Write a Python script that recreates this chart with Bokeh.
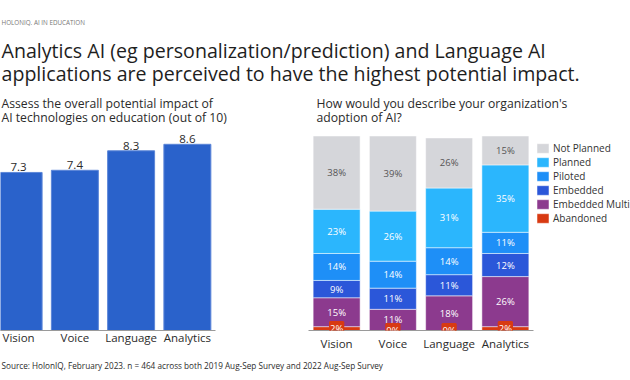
from bokeh.plotting import figure
from bokeh.models import (Range1d, FactorRange, FixedTicker, ColumnDataSource,
                          LabelSet, Legend, LegendItem)
from bokeh.layouts import column, row
from bokeh.embed import file_html
from bokeh.resources import INLINE
from bokeh.core.properties import value
import numpy as np

FONT = "Open Sans"

# ---------------- data ----------------
header_text = "HOLONIQ. AI IN EDUCATION"
title_lines = ["Analytics AI (eg personalization/prediction) and Language AI",
               "applications are perceived to have the highest potential impact."]
left_sub = ["Assess the overall potential impact of",
            "AI technologies on education (out of 10)"]
right_sub = ["How would you describe your organization's",
             "adoption of AI?"]
footer_text = ("Source: HolonIQ, February 2023. n = 464 across both 2019 Aug-Sep Survey "
               "and 2022 Aug-Sep Survey")

categories = ["Vision", "Voice", "Language", "Analytics"]
impact_scores = [7.3, 7.4, 8.3, 8.6]

series = ["Abandoned", "Embedded Multi", "Embedded", "Piloted", "Planned", "Not Planned"]
abandoned = [2, 0, 0, 2]
embedded_multi = [15, 11, 18, 26]
embedded = [9, 11, 11, 12]
piloted = [14, 14, 14, 11]
planned = [23, 26, 31, 35]
not_planned = [38, 39, 26, 15]
series_values = [abandoned, embedded_multi, embedded, piloted, planned, not_planned]
series_colors = ["#d83a12", "#8c3a8e", "#2b57d9", "#1e8ff7", "#2bb6fd", "#d5d6da"]

BAR_BLUE = "#2a62cb"
TXT = "#2b2b2b"


def blank(fig):
    fig.outline_line_color = None
    fig.background_fill_color = "white"
    fig.border_fill_color = "white"
    for g in fig.grid:
        g.visible = False


# ---------------- header (page pixel coordinates) ----------------
hdr = figure(width=630, height=128, x_range=Range1d(0, 630), y_range=Range1d(128, 0),
             output_backend="svg", toolbar_location=None, min_border=0,
             x_axis_location=None, y_axis_location=None)
blank(hdr)
hdr.text(x=[1], y=[22], text=[header_text], text_font=value(FONT), text_font_size="6.3px",
         text_color="#777777", text_baseline="alphabetic")
hdr.text(x=[1, 1], y=[50, 73], text=title_lines, text_font=value(FONT),
         text_font_size="19.6px", text_color="#1e1e1e", text_baseline="alphabetic")
hdr.text(x=[1, 1], y=[103, 117], text=left_sub, text_font=value(FONT),
         text_font_size="12.2px", text_color=TXT, text_baseline="alphabetic")
hdr.text(x=[316, 316], y=[103, 117], text=right_sub, text_font=value(FONT),
         text_font_size="12.2px", text_color=TXT, text_baseline="alphabetic")

# ---------------- left bar chart ----------------
xpos = np.arange(len(categories)) + 0.5
lsrc = ColumnDataSource(dict(x=xpos, score=impact_scores,
                             label=[f"{v:.1f}" for v in impact_scores]))
left = figure(frame_width=215, frame_height=202, x_range=Range1d(0.178, 4.0),
              y_range=Range1d(0, 9.33), output_backend="svg", toolbar_location=None,
              min_border_left=0, min_border_top=0, min_border_bottom=30,
              min_border_right=93, y_axis_location=None)
blank(left)
left.vbar(x="x", top="score", width=0.835, source=lsrc, fill_color=BAR_BLUE,
          line_color="#5c86d8", line_width=1)
left.text(x="x", y="score", text="label", source=lsrc, text_font=value(FONT),
          text_font_size="11.5px", text_color=TXT, text_align="center",
          text_baseline="bottom", y_offset=-1)
ax = left.xaxis[0]
ax.ticker = FixedTicker(ticks=list(xpos))
ax.major_label_overrides = {float(x): c for x, c in zip(xpos, categories)}
ax.major_tick_line_color = None
ax.major_tick_out = 0
ax.major_tick_in = 0
ax.minor_tick_line_color = None
ax.axis_line_color = "#9a9a9a"
ax.major_label_standoff = -1
ax.major_label_text_font = FONT
ax.major_label_text_font_size = "11.5px"
ax.major_label_text_color = TXT

# ---------------- right stacked chart ----------------
data = {"cat": categories}
for s, v in zip(series, series_values):
    data[s] = v
rsrc = ColumnDataSource(data)
right = figure(frame_width=225, frame_height=202,
               x_range=FactorRange(*categories, range_padding=0),
               y_range=Range1d(0, 104.9), output_backend="svg", toolbar_location=None,
               min_border_left=0, min_border_top=0, min_border_bottom=30,
               min_border_right=97, y_axis_location=None)
blank(right)
rends = right.vbar_stack(series, x="cat", width=0.835, source=rsrc, color=series_colors,
                         line_color="white", line_alpha=0.5, line_width=1)

vals = np.array(series_values, dtype=float)
cum = np.cumsum(vals, axis=0)
mids = cum - vals / 2
xs, ys, ts, cs = [], [], [], []
for i, s in enumerate(series):
    if s == "Abandoned":
        continue
    for j, c in enumerate(categories):
        xs.append(c)
        ys.append(mids[i, j])
        ts.append(f"{series_values[i][j]}%")
        cs.append("#555555" if s == "Not Planned" else "white")
right.text(x=xs, y=ys, text=ts, text_color=cs, text_font=value(FONT),
           text_font_size="9.5px", text_align="center", text_baseline="middle")

asrc = ColumnDataSource(dict(cat=categories, y=mids[0],
                             label=[f"{v}%" for v in abandoned]))
right.add_layout(LabelSet(x="cat", y="y", text="label", source=asrc,
                          text_font=value(FONT), text_font_size="9.5px",
                          text_color="white", text_align="center",
                          text_baseline="middle", background_fill_color=series_colors[0],
                          border_line_color=series_colors[0], border_line_width=2))

items = [LegendItem(label=s, renderers=[r]) for s, r in zip(series, rends)][::-1]
legend = Legend(items=items, location=(2, 105), margin=0, padding=0,
                glyph_width=15, glyph_height=12, label_height=12, spacing=0,
                label_standoff=3, label_text_font=FONT, label_text_font_size="10px",
                label_text_color="#333333", border_line_color=None,
                background_fill_alpha=0)
right.add_layout(legend, "right")

rax = right.xaxis[0]
rax.major_tick_line_color = None
rax.major_tick_out = 0
rax.major_tick_in = 0
rax.minor_tick_line_color = None
rax.axis_line_color = "#9a9a9a"
rax.major_label_standoff = 5
rax.major_label_text_font = FONT
rax.major_label_text_font_size = "11.5px"
rax.major_label_text_color = TXT

# ---------------- footer ----------------
ftr = figure(width=630, height=20, x_range=Range1d(0, 630), y_range=Range1d(380, 360),
             output_backend="svg", toolbar_location=None, min_border=0,
             x_axis_location=None, y_axis_location=None)
blank(ftr)
ftr.text(x=[1], y=[364.5], text=[footer_text], text_font=value(FONT),
         text_font_size="8.2px", text_color=TXT, text_baseline="alphabetic")

layout = column(hdr, row(left, right), ftr)
open("out.html", "w").write(file_html(layout, INLINE))
